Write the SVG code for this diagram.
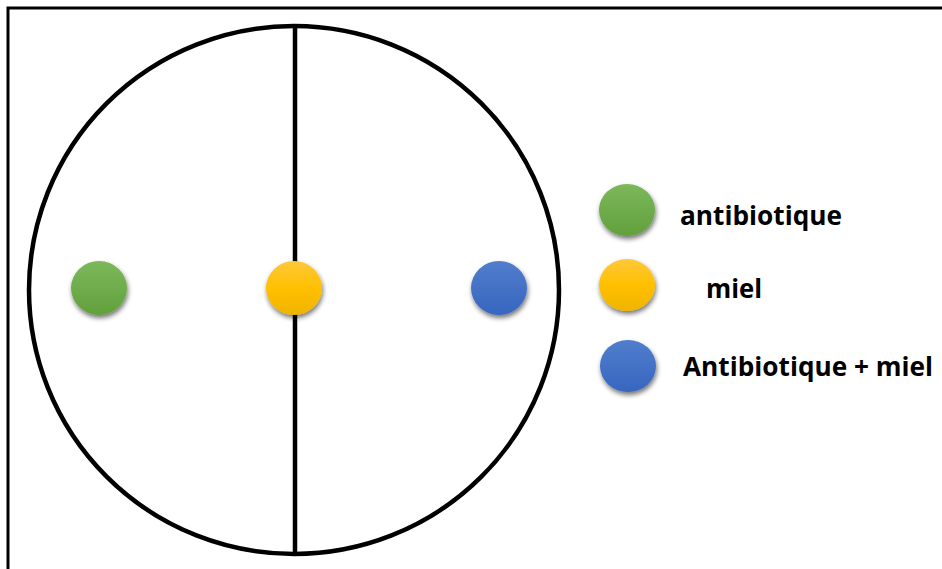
<svg xmlns="http://www.w3.org/2000/svg" width="942" height="569" viewBox="0 0 942 569">
  <defs>
    <linearGradient id="gGreen" x1="0" y1="0" x2="0" y2="1">
      <stop offset="0" stop-color="#7cb85a"/>
      <stop offset="1" stop-color="#62a03c"/>
    </linearGradient>
    <linearGradient id="gYellow" x1="0" y1="0" x2="0" y2="1">
      <stop offset="0" stop-color="#ffc83a"/>
      <stop offset="0.5" stop-color="#ffc000"/>
      <stop offset="1" stop-color="#f0b400"/>
    </linearGradient>
    <linearGradient id="gBlue" x1="0" y1="0" x2="0" y2="1">
      <stop offset="0" stop-color="#517dcc"/>
      <stop offset="1" stop-color="#3766bf"/>
    </linearGradient>
    <filter id="shadow" x="-50%" y="-50%" width="200%" height="200%">
      <feGaussianBlur in="SourceAlpha" stdDeviation="2.5"/>
      <feOffset dx="1" dy="3" result="b"/>
      <feComponentTransfer><feFuncA type="linear" slope="0.55"/></feComponentTransfer>
      <feMerge><feMergeNode/><feMergeNode in="SourceGraphic"/></feMerge>
    </filter>
  </defs>
  <style>
    .frame { fill: none; stroke: #000; stroke-width: 3; }
    .line { fill: none; stroke: #000; stroke-width: 4.5; }
    .lbl { font-family: "Open Sans", "Liberation Sans", Arial, sans-serif; font-weight: bold; font-size: 27px; fill: #000; }
  </style>
  <rect width="942" height="569" fill="#fff"/>
  <!-- outer frame, open at right and bottom -->
  <rect class="frame" x="8" y="8" width="960" height="600"/>

  <g id="dish">
    <ellipse class="line" cx="294" cy="290" rx="265" ry="264"/>
    <line class="line" x1="295" y1="27" x2="295" y2="555"/>
  </g>

  <g id="spot-antibiotique" filter="url(#shadow)">
    <ellipse cx="99" cy="288" rx="28" ry="27" fill="url(#gGreen)"/>
  </g>
  <g id="spot-miel" filter="url(#shadow)">
    <ellipse cx="294" cy="288" rx="28" ry="27" fill="url(#gYellow)"/>
  </g>
  <g id="spot-mix" filter="url(#shadow)">
    <ellipse cx="499" cy="288" rx="28" ry="27" fill="url(#gBlue)"/>
  </g>

  <g id="legend-antibiotique">
    <ellipse cx="627" cy="210" rx="28" ry="26" fill="url(#gGreen)" filter="url(#shadow)"/>
    <text class="lbl" x="680" y="225" textLength="162" lengthAdjust="spacingAndGlyphs">antibiotique</text>
  </g>
  <g id="legend-miel">
    <ellipse cx="627" cy="285" rx="28" ry="26" fill="url(#gYellow)" filter="url(#shadow)"/>
    <text class="lbl" x="706" y="298" textLength="56" lengthAdjust="spacingAndGlyphs">miel</text>
  </g>
  <g id="legend-mix">
    <ellipse cx="628" cy="366" rx="28" ry="26" fill="url(#gBlue)" filter="url(#shadow)"/>
    <text class="lbl" x="683" y="376" textLength="250" lengthAdjust="spacingAndGlyphs">Antibiotique + miel</text>
  </g>
</svg>
